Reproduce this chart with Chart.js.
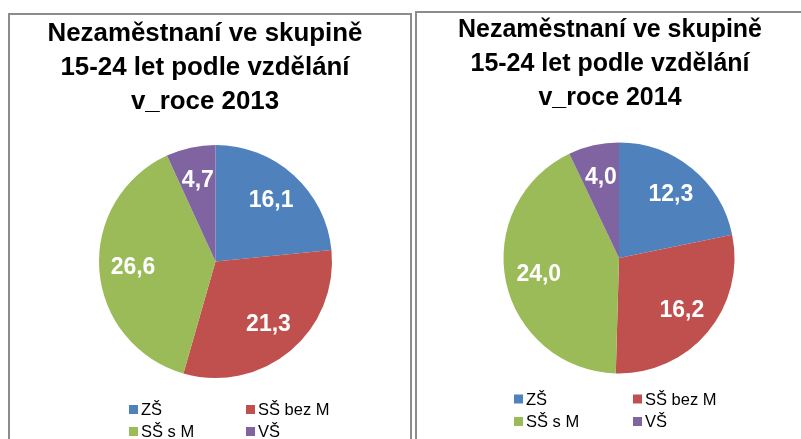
<!DOCTYPE html>
<html>
<head>
<meta charset="utf-8">
<script src="https://cdn.jsdelivr.net/npm/chart.js@4/dist/chart.umd.min.js"></script>
<style>
  html, body { margin: 0; padding: 0; background: #fff; width: 801px; height: 439px; overflow: hidden; }
  .panel { position: absolute; border: 2px solid #8c8c8c; background: #fff; box-sizing: border-box; }
  #p1 { left: 8px; top: 13px; width: 404px; height: 460px; }
  #p2 { left: 415px; top: 11px; width: 420px; height: 460px; }
  .box { position: absolute; }
  #b1 { left: 10px; top: 15px; width: 400px; height: 424px; }
  #b2 { left: 417px; top: 13px; width: 384px; height: 426px; }
</style>
</head>
<body>
<div class="panel" id="p1"></div>
<div class="panel" id="p2"></div>
<div class="box" id="b1"><canvas id="pie2013"></canvas></div>
<div class="box" id="b2"><canvas id="pie2014"></canvas></div>
<script>
(function () {
  // ── data ──
  const categories = ['ZŠ', 'SŠ bez M', 'SŠ s M', 'VŠ'];
  const values2013 = [16.1, 21.3, 26.6, 4.7];
  const values2014 = [12.3, 16.2, 24.0, 4.0];
  const titles2013 = ['Nezaměstnaní ve skupině', '15-24 let podle vzdělání', 'v_roce 2013'];
  const titles2014 = ['Nezaměstnaní ve skupině', '15-24 let podle vzdělání', 'v_roce 2014'];
  const colors = ['#4F81BD', '#C0504D', '#9BBB59', '#8064A2'];

  const FONT = '"Liberation Sans", Arial, sans-serif';
  const fmt = v => v.toFixed(1).replace('.', ',');

  // title, value labels and 2x2 legend, Excel style
  const excelPie = {
    id: 'excelPie',
    afterDraw(chart, args, opts) {
      const ctx = chart.ctx;
      ctx.save();

      // title (condensed a bit, Calibri is narrower)
      ctx.fillStyle = '#000';
      ctx.textAlign = 'center';
      ctx.textBaseline = 'alphabetic';
      ctx.font = 'bold 25px ' + FONT;
      const sx = opts.titleWidth / ctx.measureText(opts.title[0]).width;
      opts.title.forEach((line, i) => {
        ctx.save();
        ctx.translate(opts.titleX, opts.titleY + i * 34);
        ctx.scale(sx, 1);
        ctx.fillText(line, 0, 0);
        ctx.restore();
      });

      // value labels
      const meta = chart.getDatasetMeta(0);
      const data = chart.data.datasets[0].data;
      ctx.fillStyle = '#fff';
      ctx.font = 'bold 23px ' + FONT;
      ctx.textBaseline = 'middle';
      meta.data.forEach((arc, i) => {
        const p = arc.getProps(['x', 'y', 'startAngle', 'endAngle', 'outerRadius'], true);
        const mid = (p.startAngle + p.endAngle) / 2;
        const r = p.outerRadius * 0.71;
        ctx.fillText(fmt(data[i]), p.x + Math.cos(mid) * r, p.y + Math.sin(mid) * r);
      });

      // legend
      ctx.font = '16.5px ' + FONT;
      ctx.textAlign = 'left';
      chart.data.labels.forEach((lab, i) => {
        const col = i % 2, row = Math.floor(i / 2);
        const x = opts.legendX[col];
        const y = opts.legendY[row];
        ctx.fillStyle = colors[i];
        ctx.fillRect(x, y - 4.5, 9, 9);
        ctx.fillStyle = '#000';
        ctx.fillText(lab, x + 12, y + 1);
      });
      ctx.restore();
    }
  };

  function makePie(id, values, title, pad, o) {
    new Chart(document.getElementById(id), {
      type: 'pie',
      data: {
        labels: categories,
        datasets: [{
          data: values,
          backgroundColor: colors,
          borderWidth: 0
        }]
      },
      options: {
        responsive: true,
        maintainAspectRatio: false,
        animation: false,
        layout: { padding: pad },
        plugins: {
          legend: { display: false },
          tooltip: { enabled: false },
          excelPie: Object.assign({ title: title }, o)
        }
      },
      plugins: [excelPie]
    });
  }

  makePie('pie2013', values2013, titles2013,
    { left: 89, right: 78, top: 130, bottom: 61 },
    { titleX: 195, titleY: 26, titleWidth: 315, legendX: [119, 236], legendY: [394.5, 416.5] });

  makePie('pie2014', values2014, titles2014,
    { left: 86.5, right: 66.5, top: 129.5, bottom: 65.5 },
    { titleX: 193, titleY: 24, titleWidth: 304, legendX: [97, 216], legendY: [386, 408.5] });
})();
</script>
</body>
</html>
